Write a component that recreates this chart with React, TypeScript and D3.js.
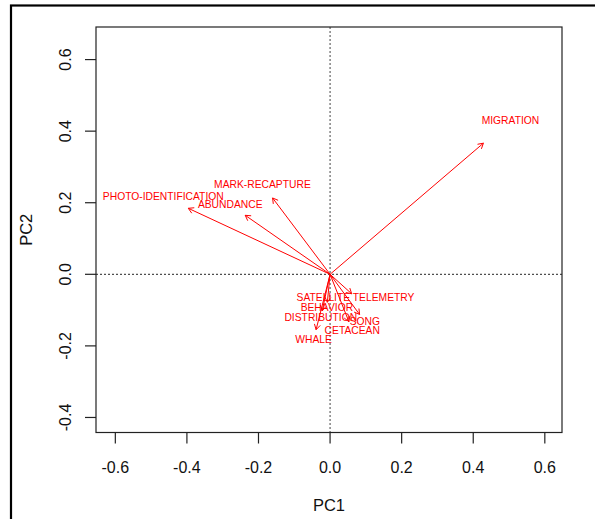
import React from "react";
import * as d3 from "d3";

const variables = [
  "MIGRATION",
  "PHOTO-IDENTIFICATION",
  "ABUNDANCE",
  "MARK-RECAPTURE",
  "SATELLITE TELEMETRY",
  "BEHAVIOR",
  "DISTRIBUTION",
  "SONG",
  "CETACEAN",
  "WHALE",
];
const pc1 = [0.504, -0.466, -0.279, -0.189, 0.071, -0.009, -0.026, 0.097, 0.062, -0.046];
const pc2 = [0.431, 0.217, 0.194, 0.251, -0.064, -0.092, -0.12, -0.132, -0.156, -0.182];
const arrowScale = 0.85;

const xTicks = [-0.6, -0.4, -0.2, 0.0, 0.2, 0.4, 0.6];
const yTicks = [-0.4, -0.2, 0.0, 0.2, 0.4, 0.6];
const xDomain = [-0.654, 0.648];
const yDomain = [-0.442, 0.691];

const W = 595;
const H = 519;
const box = { left: 96, right: 562, top: 27, bottom: 432.5 };
const FONT = "'Liberation Sans', Arial, sans-serif";

export default function App() {
  const x = d3.scaleLinear().domain(xDomain).range([box.left, box.right]);
  const y = d3.scaleLinear().domain(yDomain).range([box.bottom, box.top]);
  const x0 = x(0);
  const y0 = y(0);
  const headLen = 6;
  const headAng = Math.PI / 6;

  return (
    <svg
      width={W}
      height={H}
      style={{ position: "absolute", left: 0, top: 0, display: "block", background: "#fff" }}
    >
      <rect x={0} y={0} width={W} height={H} fill="#fff" />
      <rect x={11} y={5.5} width={700} height={700} fill="none" stroke="#000" strokeWidth={2.2} />

      {/* dotted zero lines */}
      <line x1={x0} x2={x0} y1={box.top} y2={box.bottom} stroke="#444" strokeDasharray="2,2" strokeWidth={1} />
      <line x1={box.left} x2={box.right} y1={y0} y2={y0} stroke="#222" strokeDasharray="2,2" strokeWidth={1} />

      {/* arrows */}
      {variables.map((v, i) => {
        const tx = x(pc1[i] * arrowScale);
        const ty = y(pc2[i] * arrowScale);
        const ang = Math.atan2(ty - y0, tx - x0);
        const a1 = ang + Math.PI - headAng;
        const a2 = ang + Math.PI + headAng;
        return (
          <g key={"a" + v} stroke="#ff0000" strokeWidth={1} fill="none">
            <line x1={x0} y1={y0} x2={tx} y2={ty} />
            <path
              d={`M${tx + headLen * Math.cos(a1)},${ty + headLen * Math.sin(a1)}L${tx},${ty}L${tx + headLen * Math.cos(a2)},${ty + headLen * Math.sin(a2)}`}
            />
          </g>
        );
      })}

      {/* labels */}
      {variables.map((v, i) => (
        <text
          key={"t" + v}
          x={x(pc1[i])}
          y={y(pc2[i])}
          textAnchor="middle"
          dominantBaseline="central"
          fill="#ff0000"
          fontFamily={FONT}
          fontSize={10.3}
        >
          {v}
        </text>
      ))}

      {/* box */}
      <rect
        x={box.left}
        y={box.top}
        width={box.right - box.left}
        height={box.bottom - box.top}
        fill="none"
        stroke="#222"
        strokeWidth={1.2}
      />

      {/* x axis */}
      {xTicks.map((t) => (
        <g key={"x" + t}>
          <line x1={x(t)} x2={x(t)} y1={box.bottom} y2={box.bottom + 11} stroke="#222" strokeWidth={1.2} />
          <text
            x={x(t)}
            y={467}
            textAnchor="middle"
            dominantBaseline="central"
            fontFamily={FONT}
            fontSize={16}
            fill="#111"
          >
            {d3.format(".1f")(t).replace("−", "-")}
          </text>
        </g>
      ))}
      <text x={(box.left + box.right) / 2} y={505} textAnchor="middle" dominantBaseline="central" fontFamily={FONT} fontSize={16.5} fill="#111">
        PC1
      </text>

      {/* y axis */}
      {yTicks.map((t) => (
        <g key={"y" + t}>
          <line x1={box.left - 11} x2={box.left} y1={y(t)} y2={y(t)} stroke="#222" strokeWidth={1.2} />
          <text
            transform={`translate(65,${y(t)}) rotate(-90)`}
            textAnchor="middle"
            dominantBaseline="central"
            fontFamily={FONT}
            fontSize={16}
            fill="#111"
          >
            {d3.format(".1f")(t).replace("−", "-")}
          </text>
        </g>
      ))}
      <text
        transform={`translate(26,${(box.top + box.bottom) / 2}) rotate(-90)`}
        textAnchor="middle"
        dominantBaseline="central"
        fontFamily={FONT}
        fontSize={16.5}
        fill="#111"
      >
        PC2
      </text>
    </svg>
  );
}
